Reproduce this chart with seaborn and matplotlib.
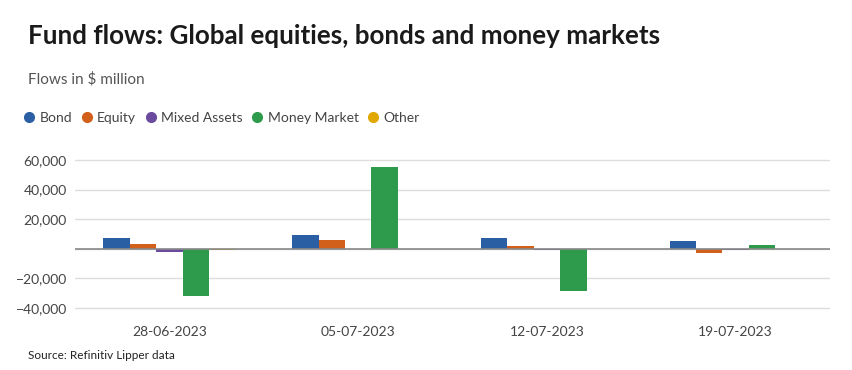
import matplotlib
matplotlib.use("Agg")
import matplotlib.pyplot as plt
from matplotlib.lines import Line2D
import seaborn as sns
import pandas as pd

dates = ["28-06-2023", "05-07-2023", "12-07-2023", "19-07-2023"]
series = ["Bond", "Equity", "Mixed Assets", "Money Market", "Other"]
bond = [7000, 9500, 7000, 5000]
equity = [3000, 6000, 1500, -2800]
mixed = [-2500, -200, -1000, -800]
money = [-32000, 55000, -29000, 2500]
other = [-1000, -100, -300, -200]
colors = ["#2b5fa3", "#d2601a", "#6a4ba0", "#2e9a4b", "#e0a800"]

rows = []
for name, vals in zip(series, [bond, equity, mixed, money, other]):
    for d, v in zip(dates, vals):
        rows.append({"date": d, "series": name, "value": v})
df = pd.DataFrame(rows)

sns.set_theme(style="white")
plt.rcParams["font.family"] = ["Lato", "DejaVu Sans"]

fig = plt.figure(figsize=(8.53, 3.70), dpi=100)
ax = fig.add_axes([0.088, 0.1405, 0.885, 0.431])
sns.barplot(data=df, x="date", y="value", hue="series", order=dates,
            hue_order=series, palette=colors, width=0.7, saturation=1,
            gap=0, linewidth=0, edgecolor="none", ax=ax, legend=False)
ax.set_ylim(-47000, 61000)
ax.set_xlim(-0.5, 3.5)
ax.set_yticks([-40000, -20000, 0, 20000, 40000, 60000])
ax.set_yticklabels(["−40,000", "−20,000", "", "20,000", "40,000", "60,000"])
ax.grid(axis="y", color="#dddddd", linewidth=1)
ax.set_axisbelow(True)
ax.axhline(0, color="#888888", linewidth=1.2, zorder=3)
for s in ax.spines.values():
    s.set_visible(False)
ax.tick_params(axis="both", length=0, labelsize=10, colors="#444444", pad=6)
ax.tick_params(axis="x", pad=6)
ax.set_xlabel("")
ax.set_ylabel("")

fig.text(0.033, 0.88, "Fund flows: Global equities, bonds and money markets",
         fontsize=18.7, fontweight="bold", color="#1a1a1a")
fig.text(0.033, 0.775, "Flows in $ million", fontsize=11, color="#555555")
handles = [Line2D([], [], marker="o", linestyle="", markersize=7,
                  markerfacecolor=c, markeredgecolor=c) for c in colors]
fig.legend(handles, series, loc="center left", bbox_to_anchor=(0.012, 0.682),
           ncol=5, frameon=False, fontsize=10, handletextpad=0.3,
           handlelength=0.9, columnspacing=0.6, labelcolor="#444444")
fig.text(0.033, 0.03, "Source: Refinitiv Lipper data", fontsize=8.5, color="#222222")

fig.savefig("out.png", dpi=100)
